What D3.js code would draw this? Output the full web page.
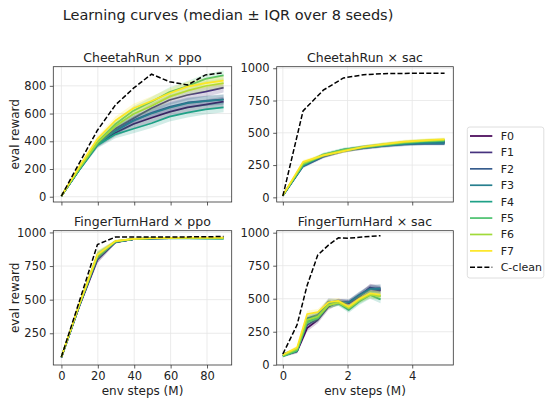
<!DOCTYPE html>
<html>
<head>
<meta charset="utf-8">
<title>Learning curves</title>
<script src="https://d3js.org/d3.v7.min.js"></script>
<style>
  body { margin: 0; background: #fff; }
  svg text { font-family: "DejaVu Sans", sans-serif; fill: #222; }
</style>
</head>
<body>
<svg id="chart" width="550" height="403"></svg>
<script>
// ---- data ----
var seriesNames = ["F0", "F1", "F2", "F3", "F4", "F5", "F6", "F7"];
var cleanName = "C-clean";

var stepsPpo = [0, 9.9, 19.8, 29.7, 39.6, 49.5, 59.4, 69.3, 79.2, 89.1];
var stepsCheetahSac = [0, 0.625, 1.25, 1.875, 2.5, 3.125, 3.75, 4.375, 5.0];
var stepsFingerSac = [0, 0.44, 0.75, 1.08, 1.41, 1.72, 2.04, 2.36, 2.7, 3.02];

// CheetahRun x ppo (medians)
var cheetahPpo = [
  [5, 198, 378, 462, 525, 570, 612, 645, 665, 686],
  [5, 200, 385, 490, 566, 638, 698, 734, 758, 787],
  [5, 198, 382, 478, 552, 605, 648, 680, 692, 703],
  [5, 196, 380, 475, 548, 600, 642, 675, 690, 700],
  [5, 195, 372, 450, 490, 530, 578, 607, 630, 645],
  [5, 205, 395, 525, 621, 686, 755, 799, 850, 875],
  [5, 205, 390, 510, 597, 655, 722, 765, 799, 819],
  [5, 220, 417, 550, 638, 690, 746, 794, 819, 838]
];
var cheetahPpoClean = [5, 245, 480, 662, 783, 884, 830, 806, 879, 895];
var cheetahPpoIqr = [3, 12, 22, 28, 32, 34, 35, 36, 36, 36];

// CheetahRun x sac
var cheetahSac = [
  [15, 250, 318, 362, 385, 402, 415, 422, 428],
  [15, 252, 320, 360, 388, 405, 418, 425, 432],
  [12, 240, 315, 362, 382, 398, 410, 415, 415],
  [13, 245, 322, 365, 385, 400, 412, 420, 420],
  [14, 250, 330, 370, 390, 405, 420, 430, 435],
  [14, 255, 332, 368, 390, 408, 425, 438, 442],
  [15, 262, 325, 360, 390, 410, 428, 438, 445],
  [16, 275, 325, 358, 392, 412, 432, 442, 450]
];
var cheetahSacClean = [10, 670, 830, 925, 950, 958, 960, 962, 962];
var cheetahSacIqr = [4, 14, 14, 14, 14, 14, 14, 14, 14];

// FingerTurnHard x ppo
var fingerPpo = [
  [70, 455, 800, 928, 950, 955, 958, 958, 958, 958],
  [70, 455, 805, 928, 950, 956, 958, 958, 958, 958],
  [72, 460, 815, 930, 950, 956, 958, 958, 958, 958],
  [72, 460, 820, 930, 950, 955, 957, 957, 956, 955],
  [73, 462, 825, 932, 950, 955, 956, 956, 955, 953],
  [73, 462, 830, 932, 952, 956, 957, 957, 956, 955],
  [74, 465, 830, 935, 952, 957, 958, 960, 960, 960],
  [75, 470, 835, 935, 952, 957, 960, 962, 962, 962]
];
var fingerPpoClean = [75, 490, 910, 966, 966, 966, 966, 967, 968, 970];
var fingerPpoIqr = [8, 20, 30, 10, 6, 5, 5, 5, 5, 5];

// FingerTurnHard x sac
var fingerSac = [
  [68, 100, 277, 340, 440, 478, 466, 516, 585, 565],
  [70, 105, 300, 350, 450, 475, 470, 520, 575, 560],
  [80, 113, 352, 378, 478, 473, 473, 528, 579, 580],
  [78, 110, 345, 372, 470, 470, 472, 525, 572, 575],
  [65, 105, 327, 352, 453, 466, 415, 478, 528, 495],
  [65, 108, 320, 355, 450, 470, 425, 485, 535, 520],
  [70, 120, 340, 365, 450, 470, 430, 490, 530, 520],
  [76, 130, 383, 398, 473, 483, 440, 498, 541, 530]
];
var fingerSacClean = [81, 302, 600, 831, 906, 961, 958, 965, 972, 977];
var fingerSacIqr = [10, 14, 25, 25, 25, 22, 22, 25, 28, 30];

var ticksPpoX = [0, 20, 40, 60, 80];
var ticksSacX = [0, 2, 4];
var ticksCheetahPpoY = [0, 200, 400, 600, 800];
var ticksSacY = [0, 250, 500, 750, 1000];
var ticksFingerPpoY = [250, 500, 750, 1000];

// ---- layout ----
var colors = seriesNames.map(function(d, i) { return d3.interpolateViridis(i / 7); });

var panels = [
  {title: "CheetahRun \u00d7 ppo", box: [53.3, 66.7, 231.7, 202], xd: [-4.46, 93.56], yd: [-38, 938],
   steps: stepsPpo, med: cheetahPpo, clean: cheetahPpoClean, iqr: cheetahPpoIqr,
   xt: ticksPpoX, yt: ticksCheetahPpoY, xlab: false, ylab: true},
  {title: "CheetahRun \u00d7 sac", box: [276.7, 66.7, 453.3, 202], xd: [-0.19, 5.27], yd: [-36, 1012],
   steps: stepsCheetahSac, med: cheetahSac, clean: cheetahSacClean, iqr: cheetahSacIqr,
   xt: ticksSacX, yt: ticksSacY, xlab: false, ylab: false},
  {title: "FingerTurnHard \u00d7 ppo", box: [53.3, 230.7, 231.7, 365], xd: [-4.46, 93.56], yd: [14, 1013],
   steps: stepsPpo, med: fingerPpo, clean: fingerPpoClean, iqr: fingerPpoIqr,
   xt: ticksPpoX, yt: ticksFingerPpoY, xlab: true, ylab: true},
  {title: "FingerTurnHard \u00d7 sac", box: [276.7, 230.7, 453.3, 365], xd: [-0.19, 5.27], yd: [-2, 1015],
   steps: stepsFingerSac, med: fingerSac, clean: fingerSacClean, iqr: fingerSacIqr,
   xt: ticksSacX, yt: ticksSacY, xlab: true, ylab: false}
];

var svg = d3.select("#chart");

svg.append("text")
  .attr("x", 228).attr("y", 20)
  .attr("text-anchor", "middle")
  .style("font-size", "14.5px")
  .text("Learning curves (median \u00b1 IQR over 8 seeds)");

panels.forEach(function(p) {
  var x = d3.scaleLinear().domain(p.xd).range([p.box[0], p.box[2]]);
  var y = d3.scaleLinear().domain(p.yd).range([p.box[3], p.box[1]]);
  var g = svg.append("g");

  var clipId = "clip" + Math.round(p.box[0]) + "_" + Math.round(p.box[1]);
  g.append("clipPath").attr("id", clipId)
    .append("rect")
    .attr("x", p.box[0]).attr("y", p.box[1])
    .attr("width", p.box[2] - p.box[0]).attr("height", p.box[3] - p.box[1]);

  // grid
  g.selectAll(".gx").data(p.xt).enter().append("line")
    .attr("x1", function(d) { return x(d); }).attr("x2", function(d) { return x(d); })
    .attr("y1", p.box[1]).attr("y2", p.box[3])
    .attr("stroke", "#e6e6e6").attr("stroke-width", 0.8);
  g.selectAll(".gy").data(p.yt).enter().append("line")
    .attr("y1", function(d) { return y(d); }).attr("y2", function(d) { return y(d); })
    .attr("x1", p.box[0]).attr("x2", p.box[2])
    .attr("stroke", "#e6e6e6").attr("stroke-width", 0.8);

  var plot = g.append("g").attr("clip-path", "url(#" + clipId + ")");

  var area = d3.area()
    .x(function(d, i) { return x(p.steps[i]); })
    .y0(function(d, i) { return y(d - p.iqr[i]); })
    .y1(function(d, i) { return y(d + p.iqr[i]); });
  var line = d3.line()
    .x(function(d, i) { return x(p.steps[i]); })
    .y(function(d) { return y(d); });

  p.med.forEach(function(vals, k) {
    plot.append("path").attr("d", area(vals))
      .attr("fill", colors[k]).attr("fill-opacity", 0.2).attr("stroke", "none");
    plot.append("path").attr("d", line(vals))
      .attr("fill", "none").attr("stroke", colors[k]).attr("stroke-width", 1.7)
      .attr("stroke-linejoin", "round");
  });
  plot.append("path").attr("d", line(p.clean))
    .attr("fill", "none").attr("stroke", "#000").attr("stroke-width", 1.5)
    .attr("stroke-dasharray", "5,2.2");

  // axes
  var fmt = d3.format("d");
  var xa = d3.axisBottom(x).tickValues(p.xt).tickSize(3.5).tickPadding(3.5)
    .tickFormat(p.xlab ? fmt : "");
  var ya = d3.axisLeft(y).tickValues(p.yt).tickSize(3.5).tickPadding(3.5).tickFormat(fmt);

  var gx = g.append("g").attr("transform", "translate(0," + p.box[3] + ")").call(xa);
  var gy = g.append("g").attr("transform", "translate(" + p.box[0] + ",0)").call(ya);
  [gx, gy].forEach(function(a) {
    a.select(".domain").remove();
    a.selectAll("line").attr("stroke", "#333").attr("stroke-width", 0.8);
    a.selectAll("text").style("font-size", "11.5px").style("font-family", "DejaVu Sans").attr("fill", "#222");
  });

  g.append("rect")
    .attr("x", p.box[0]).attr("y", p.box[1])
    .attr("width", p.box[2] - p.box[0]).attr("height", p.box[3] - p.box[1])
    .attr("fill", "none").attr("stroke", "#333").attr("stroke-width", 0.8);

  g.append("text")
    .attr("x", (p.box[0] + p.box[2]) / 2).attr("y", p.box[1] - 5)
    .attr("text-anchor", "middle")
    .style("font-size", "12.5px")
    .text(p.title);

  if (p.xlab) {
    g.append("text")
      .attr("x", (p.box[0] + p.box[2]) / 2).attr("y", p.box[3] + 30)
      .attr("text-anchor", "middle")
      .style("font-size", "12px")
      .text("env steps (M)");
  }
  if (p.ylab) {
    g.append("text")
      .attr("transform", "translate(19," + ((p.box[1] + p.box[3]) / 2) + ") rotate(-90)")
      .attr("text-anchor", "middle")
      .style("font-size", "12px")
      .text("eval reward");
  }
});

// legend
var lg = svg.append("g");
lg.append("rect")
  .attr("x", 467.3).attr("y", 127).attr("width", 76.5).attr("height", 151)
  .attr("rx", 2.5).attr("fill", "#fff").attr("stroke", "#d6d6d6").attr("stroke-width", 0.8);
var legendItems = seriesNames.concat([cleanName]);
var ly = d3.scalePoint().domain(legendItems).range([136, 267.3]);
legendItems.forEach(function(name, i) {
  var isClean = i === seriesNames.length;
  lg.append("line")
    .attr("x1", 470).attr("x2", 492.3)
    .attr("y1", ly(name)).attr("y2", ly(name))
    .attr("stroke", isClean ? "#000" : colors[i])
    .attr("stroke-width", isClean ? 1.5 : 1.7)
    .attr("stroke-dasharray", isClean ? "5,2.2" : null);
  lg.append("text")
    .attr("x", 500.7).attr("y", ly(name))
    .attr("dy", "0.36em")
    .style("font-size", "11px")
    .text(name);
});
</script>
</body>
</html>
